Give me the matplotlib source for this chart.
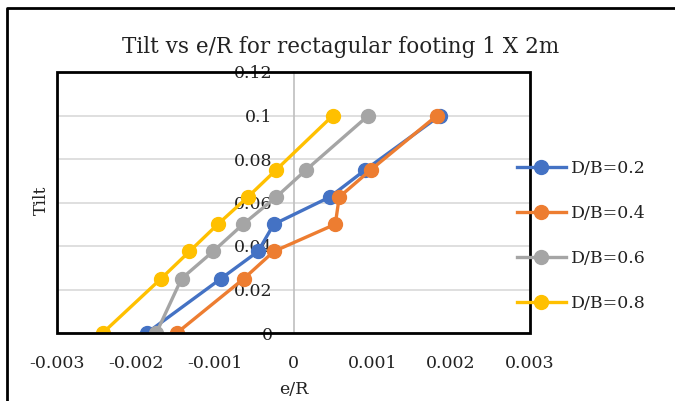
import matplotlib
matplotlib.use('Agg')
import matplotlib.pyplot as plt
from matplotlib.patches import Rectangle
from matplotlib.lines import Line2D

plt.rcParams['font.family'] = ['DejaVu Serif']

# tilt values (same for all series)
tilt = [0, 0.025, 0.0375, 0.05, 0.0625, 0.075, 0.1]

# e/R for each D/B
er_02 = [-0.00186, -0.00092, -0.00045, -0.00025, 0.00046, 0.00091, 0.00186]
er_04 = [-0.00148, -0.00063, -0.00025, 0.00053, 0.00058, 0.00098, 0.00182]
er_06 = [-0.00174, -0.00142, -0.00102, -0.00064, -0.00022, 0.00016, 0.00095]
er_08 = [-0.00242, -0.00168, -0.00132, -0.00096, -0.00058, -0.00022, 0.00050]

labels = ['D/B=0.2', 'D/B=0.4', 'D/B=0.6', 'D/B=0.8']
colors = ['#4472C4', '#ED7D31', '#A5A5A5', '#FFC000']

fig = plt.figure(figsize=(6.75, 4.01), dpi=100)
ax = fig.add_axes([57/675, 1-333/401, 473/675, 261/401])

for xs, lab, c in zip([er_02, er_04, er_06, er_08], labels, colors):
    ax.plot(xs, tilt, color=c, lw=2.4, marker='o', markersize=10, label=lab, zorder=3)

ax.set_xlim(-0.003, 0.003)
ax.set_ylim(0, 0.12)
ax.set_xticks([-0.003, -0.002, -0.001, 0, 0.001, 0.002, 0.003])
ax.set_xticklabels(['-0.003', '-0.002', '-0.001', '0', '0.001', '0.002', '0.003'])
ax.set_yticks([0, 0.02, 0.04, 0.06, 0.08, 0.1, 0.12])
ax.set_yticklabels(['0', '0.02', '0.04', '0.06', '0.08', '0.1', '0.12'])
ax.tick_params(length=0, labelsize=12.5, labelcolor='#222222')
ax.tick_params(axis='x', pad=16)
ax.tick_params(axis='y', pad=15)

ax.grid(axis='y', color='#d9d9d9', lw=1.2)
ax.set_axisbelow(True)

# y axis sits at e/R = 0
for s in ['top', 'right', 'bottom']:
    ax.spines[s].set_visible(False)
ax.spines['left'].set_position(('data', 0))
ax.spines['left'].set_color('#bfbfbf')
ax.spines['left'].set_linewidth(1.2)

# black frame around the plot area
ax.add_patch(Rectangle((0, 0), 1, 1, transform=ax.transAxes, fill=False,
                       lw=2, edgecolor='black', clip_on=False, zorder=5))

ax.set_xlabel('e/R', fontsize=12.5, labelpad=6, color='#222222')
ax.set_ylabel('Tilt', fontsize=12.5, color='#222222')
ax.yaxis.set_label_coords(-0.015, 0.51)
ax.set_title('Tilt vs e/R for rectagular footing 1 X 2m', fontsize=15.5, x=0.6, pad=14,
             color='#222222')

ax.legend(loc='upper left', bbox_to_anchor=(510/675, 1-153/401), bbox_transform=fig.transFigure,
          frameon=False, fontsize=12.5, labelspacing=1.62, handlelength=2.8, handletextpad=0.3,
          borderaxespad=0, labelcolor='#222222')

# outer chart border (cropped)
fig.add_artist(Line2D([7/675, 7/675, 1], [0, 1-8/401, 1-8/401], color='black', lw=2))

fig.savefig('out.png', dpi=100)
